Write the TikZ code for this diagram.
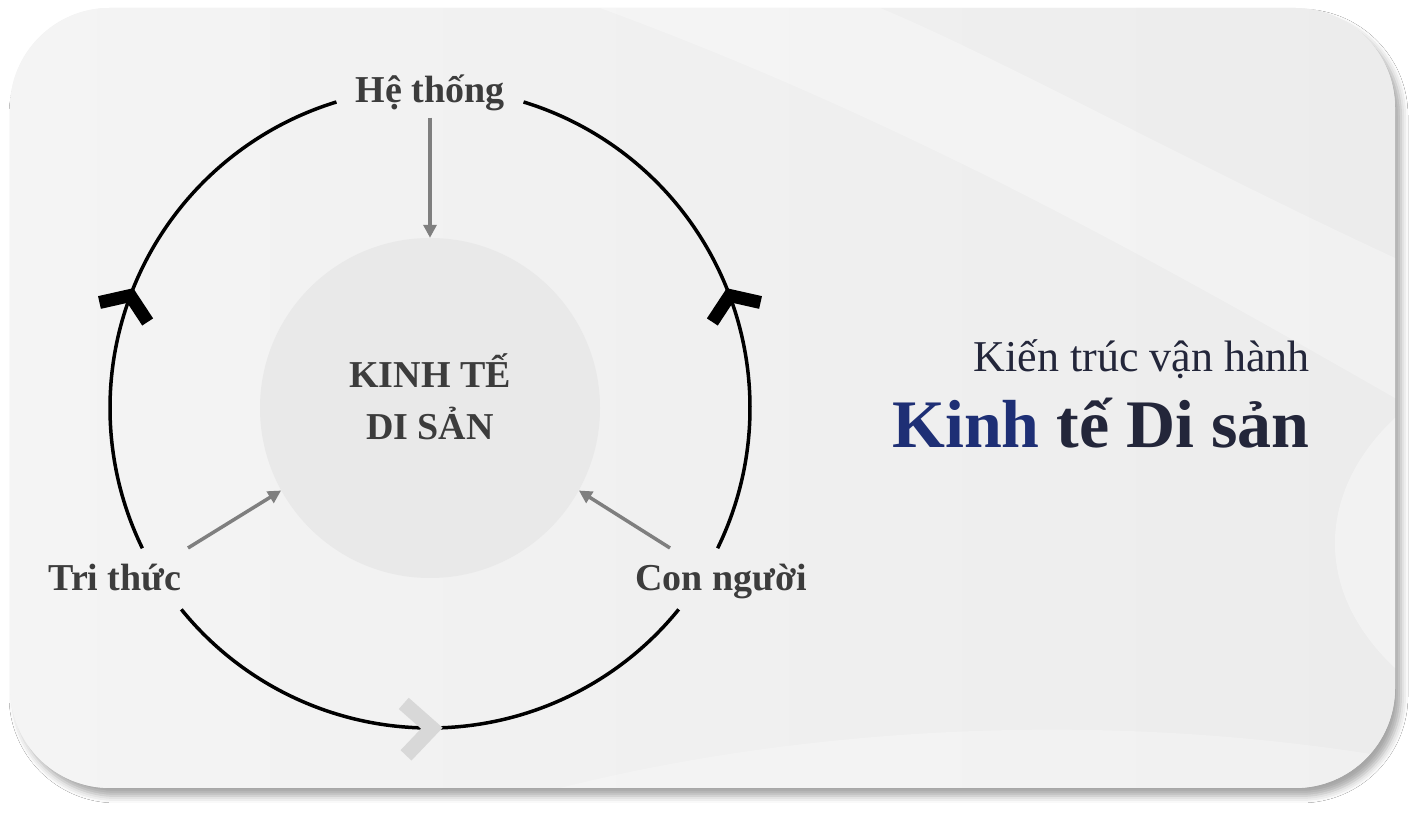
\documentclass[tikz,border=0pt]{standalone}
\usepackage{fontspec}
\setmainfont{Liberation Serif}
\usetikzlibrary{arrows.meta, shadows.blur, positioning}

\definecolor{cardgray}{HTML}{F0F0F0}
\definecolor{cardlight}{HTML}{F4F4F4}
\definecolor{carddark}{HTML}{ECECEC}
\definecolor{coregray}{HTML}{E9E9E9}
\definecolor{labelgray}{HTML}{3C3C3C}
\definecolor{arrowgray}{HTML}{7F7F7F}
\definecolor{chevgray}{HTML}{D8D8D8}
\definecolor{navy}{HTML}{1E2F75}
\definecolor{inkdark}{HTML}{23263A}

\tikzset{
  ring/.style={line width=3.5pt, black},
  flowarrow/.style={line width=3.5pt, arrowgray, -{Triangle[length=13pt, width=13pt]}},
  cycletext/.style={font=\fontsize{38}{42}\selectfont\bfseries, text=labelgray, inner sep=0pt},
  coretext/.style={font=\fontsize{38}{42}\selectfont\bfseries, text=labelgray, inner sep=0pt},
  chevron/.style={line width=13pt, line join=miter, line cap=butt},
}

\begin{document}
\begin{tikzpicture}[x=1pt, y=1pt]
\useasboundingbox (0,0) rectangle (1423,818);
\fill[white] (0,0) rectangle (1423,818);

% card with shadow
\path[fill=cardgray, rounded corners=100pt, blur shadow={shadow xshift=6pt, shadow yshift=-8pt, shadow blur radius=7pt, shadow opacity=35}] (10,30) rectangle (1395,810);
\begin{scope}
\clip[rounded corners=100pt] (10,30) rectangle (1395,810);
\shade[left color=cardlight, right color=carddark] (10,30) rectangle (1395,810);
\fill[white, opacity=0.3] (600,810) .. controls (900,700) and (1150,560) .. (1395,420) -- (1395,560) .. controls (1200,650) and (1000,760) .. (880,810) -- cycle;
\fill[white, opacity=0.35] (1395,400) .. controls (1320,330) and (1310,230) .. (1395,150) -- cycle;
\fill[white, opacity=0.25] (560,30) .. controls (800,90) and (1100,110) .. (1395,60) -- (1395,30) -- cycle;
\end{scope}

\coordinate (hub) at (430,410);

% core
\node[circle, fill=coregray, minimum size=340pt, inner sep=0pt] (core) at (hub) {};
\node[coretext, anchor=base] (coreline1) at (430,430) {KINH TẾ};
\node[coretext, anchor=base] (coreline2) at (430,378) {DI SẢN};

% ring
\draw[ring] ([shift={(107:320)}]hub) arc[start angle=107, end angle=206, radius=320];
\draw[ring] ([shift={(219:320)}]hub) arc[start angle=219, end angle=321, radius=320];
\draw[ring] ([shift={(334:320)}]hub) arc[start angle=334, end angle=433, radius=320];

% chevrons on the ring
\draw[chevron, black, shift={([shift={(158:320)}]hub)}, rotate=68] (-26,26) -- (-8,0) -- (-26,-26);
\draw[chevron, black, shift={([shift={(22:320)}]hub)}, rotate=112] (-26,26) -- (-8,0) -- (-26,-26);
\draw[chevron, chevgray, line width=15pt, shift={([shift={(272.3:320)}]hub)}, rotate=2.5] (-38,26) -- (-11,0) -- (-38,-26);

% labels
\node[cycletext, anchor=base] (hethong) at (430,715) {Hệ thống};
\node[cycletext, anchor=base] (trithuc) at (115,227) {Tri thức};
\node[cycletext, anchor=base] (connguoi) at (721,227) {Con người};

% arrows to core
\coordinate (trifoot) at (188,270);
\coordinate (confoot) at (670,270);
\draw[flowarrow, shorten <=6pt] (hethong.south) -- (core.north);
\draw[flowarrow] (trifoot) -- (core.209);
\draw[flowarrow] (confoot) -- (core.331);

% title
\node[anchor=base east, font=\fontsize{44}{48}\selectfont, text=inkdark, inner sep=0pt] (subtitle) at (1310,446) {Kiến trúc vận hành};
\node[anchor=base east, font=\fontsize{68}{72}\selectfont\bfseries, inner sep=0pt] (title) at (1310,370) {\textcolor{navy}{Kinh} \textcolor{inkdark}{tế Di sản}};

\end{tikzpicture}
\end{document}
